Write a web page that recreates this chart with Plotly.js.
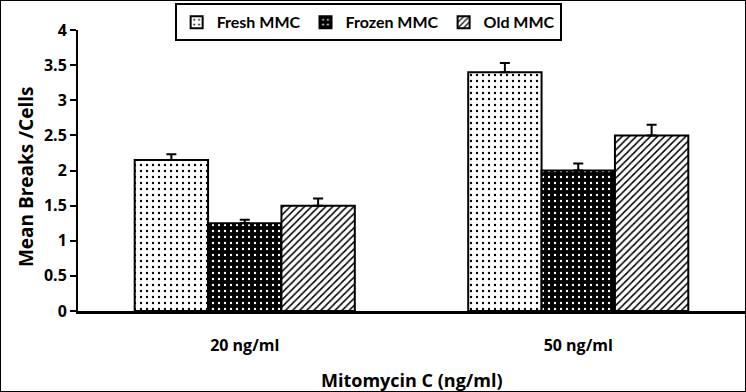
<!DOCTYPE html>
<html>
<head>
<meta charset="utf-8">
<script src="https://cdn.plot.ly/plotly-3.0.1.min.js"></script>
<style>
html,body{margin:0;padding:0;background:#fff;}
#chart{width:744px;height:390px;border:1px solid #000;}
</style>
</head>
<body>
<div id="chart"></div>
<script>
var categories = ["20 ng/ml", "50 ng/ml"];
var seriesNames = ["Fresh MMC", "Frozen MMC", "Old MMC"];
var freshValues = [2.15, 3.4];
var frozenValues = [1.25, 2.0];
var oldValues = [1.5, 2.5];
var freshErrors = [0.08, 0.13];
var frozenErrors = [0.05, 0.1];
var oldErrors = [0.1, 0.15];
var yTicks = [0, 0.5, 1, 1.5, 2, 2.5, 3, 3.5, 4];
var yTickLabels = ["0", "0.5", "1", "1.5", "2", "2.5", "3", "3.5", "4"];

var font = "Open Sans, Liberation Sans, sans-serif";

function mk(name, vals, errs, pattern) {
  return {
    type: "bar", name: name, x: categories, y: vals,
    marker: {color: pattern.bg, line: {color: "#000", width: 2}, pattern: pattern.p},
    error_y: {type: "data", symmetric: false, array: errs, arrayminus: errs.map(function(){return 0;}),
              color: "#000", thickness: 2, width: 5}
  };
}

var traces = [
  mk(seriesNames[0], freshValues, freshErrors, {bg: "#fff", p: {shape: ".", fgcolor: "#000", bgcolor: "#fff", size: 6, solidity: 0.12}}),
  mk(seriesNames[1], frozenValues, frozenErrors, {bg: "#000", p: {shape: ".", fgcolor: "#fff", bgcolor: "#000", size: 6, solidity: 0.12}}),
  mk(seriesNames[2], oldValues, oldErrors, {bg: "#fff", p: {shape: "/", fgcolor: "#000", bgcolor: "#fff", size: 5, solidity: 0.3}})
];

var layout = {
  width: 744, height: 390,
  margin: {l: 77, r: 0, t: 29, b: 80},
  paper_bgcolor: "#fff", plot_bgcolor: "#fff",
  font: {family: font, color: "#000", size: 14},
  barmode: "group", bargap: 0.34, bargroupgap: 0,
  showlegend: true,
  legend: {orientation: "h", x: 0.435, xanchor: "center", y: 1.095, yanchor: "top",
           bordercolor: "#000", borderwidth: 2, bgcolor: "#fff",
           font: {family: "Lato, Open Sans, sans-serif", size: 16, weight: "bold"}, itemwidth: 30, tracegroupgap: 0},
  xaxis: {showline: true, linecolor: "#000", linewidth: 3, ticks: "", showgrid: false,
          tickfont: {family: font, size: 16, weight: "bold"}, ticklabelstandoff: 18,
          title: {text: ""}},
  yaxis: {range: [0, 4], tickvals: yTicks, ticktext: yTickLabels, showline: true, linecolor: "#000", linewidth: 2,
          ticks: "outside", ticklen: 6, tickwidth: 2, tickcolor: "#000", showgrid: false, zeroline: false,
          tickfont: {family: font, size: 16, weight: "bold"},
          title: {text: ""}},
  annotations: [
    {text: "Mitomycin C (ng/ml)", xref: "paper", yref: "paper", x: 0.5, y: -0.245, xanchor: "center", yanchor: "middle",
     showarrow: false, font: {family: font, size: 18, weight: "bold"}},
    {text: "Mean Breaks /Cells", xref: "paper", yref: "paper", x: -0.078, y: 0.48, xanchor: "center", yanchor: "middle",
     textangle: -90, showarrow: false, font: {family: font, size: 19, weight: "bold"}}
  ]
};

Plotly.newPlot("chart", traces, layout, {displayModeBar: false, staticPlot: true});
</script>
</body>
</html>
